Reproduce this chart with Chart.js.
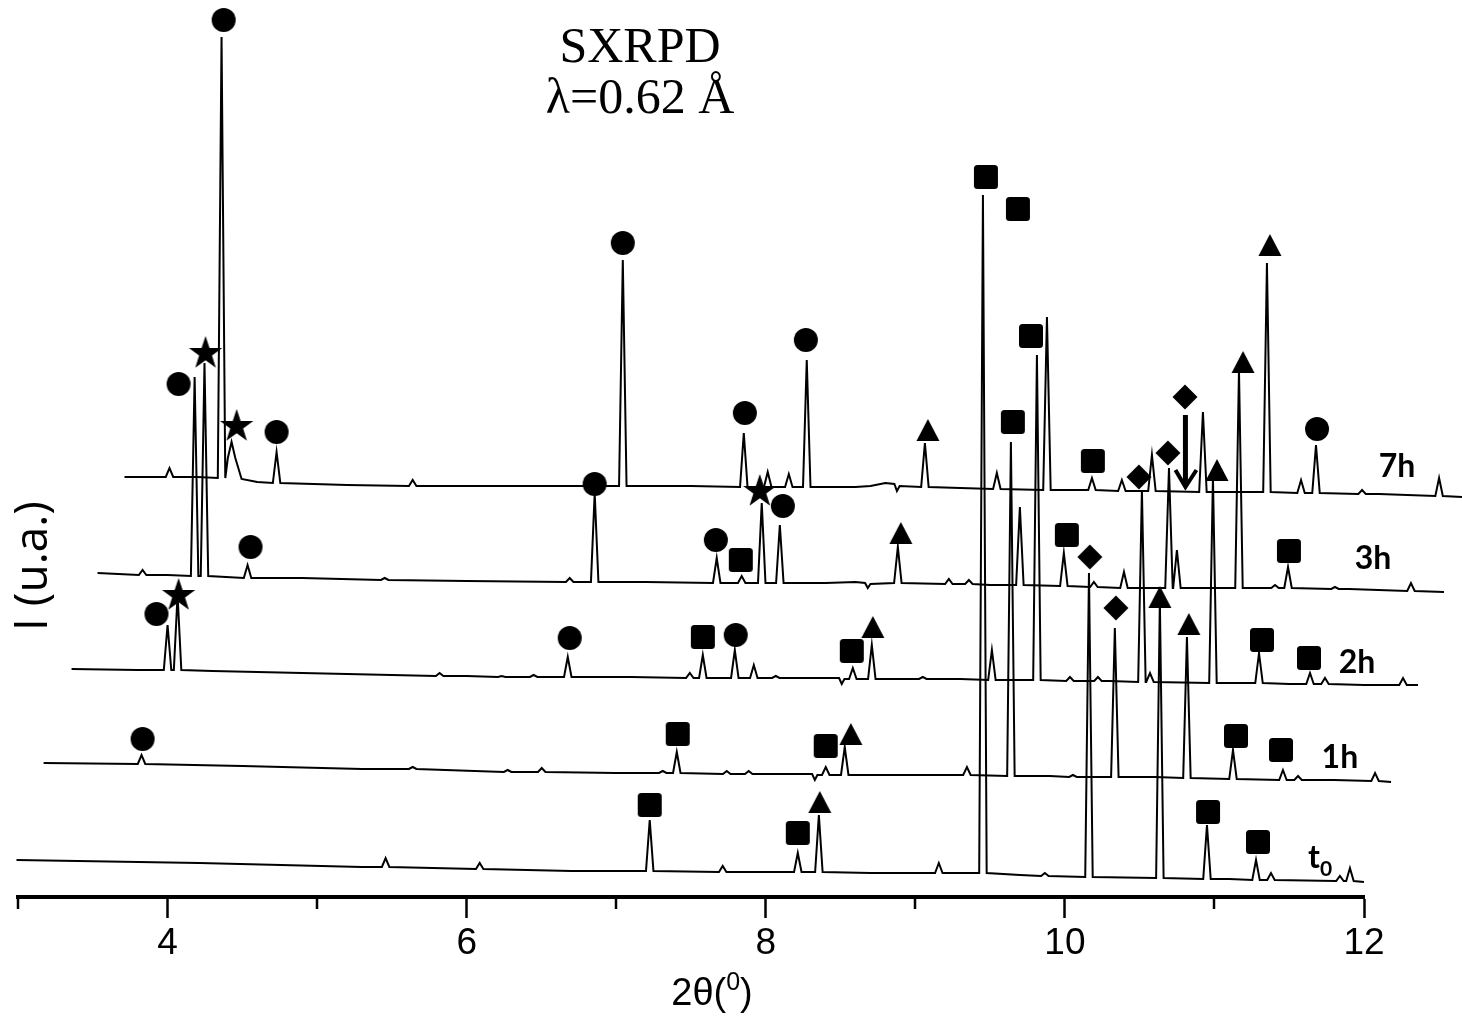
<!DOCTYPE html>
<html>
<head>
<meta charset="utf-8">
<title>SXRPD</title>
<script src="https://cdn.jsdelivr.net/npm/chart.js@4.4.1/dist/chart.umd.min.js"></script>
<style>
  html, body { margin: 0; padding: 0; background: #fff; }
  #wrap { width: 1462px; height: 1017px; position: relative; }
</style>
</head>
<body>
<div id="wrap"><canvas id="xrd"></canvas></div>
<script>
// Waterfall of SXRPD patterns (each trace already carries its stacking offset).
// Baselines: [2θ, I]; peaks: [2θ, local baseline I, peak top I]
const t0Base = [[2.990, 37], [4.214, 34], [5.300, 30], [6.700, 26], [8.700, 24], [9.700, 22], [11.100, 18], [12.000, 15]];
const t0Peaks = [
  [5.458, 30, 39], [6.087, 28, 34], [7.224, 26, 77], [7.712, 25, 31], [8.214, 25, 44], [8.355, 25, 82],
  [9.157, 24, 34], [9.452, 24, 702], [9.866, 21, 24], [10.161, 20, 324], [10.635, 19, 297],
  [10.950, 18, 72], [11.278, 17, 37], [11.378, 17, 24], [11.839, 16, 21], [11.906, 16, 29]
];

const h1Base = [[3.171, 134], [4.500, 131], [5.300, 128], [7.000, 124], [8.100, 123], [8.310, 123], [8.328, 117],
  [8.345, 122], [9.000, 122], [9.900, 121], [10.600, 120], [11.800, 117], [12.181, 115]];
const h1Peaks = [
  [3.826, 133, 142], [5.639, 128, 130], [6.274, 125, 127], [6.502, 125, 129], [7.311, 124, 126], [7.405, 124, 145],
  [7.739, 123, 126], [7.886, 123, 126], [8.401, 122, 130], [8.528, 122, 150], [9.345, 122, 130], [9.639, 121, 455],
  [10.054, 120, 122], [10.334, 120, 269], [10.816, 119, 260], [11.124, 118, 147], [11.458, 117, 127],
  [11.559, 117, 121], [12.074, 116, 124]
];

const h2Base = [[3.358, 228], [3.800, 227], [4.300, 226], [5.200, 223], [6.000, 221], [7.100, 220], [8.300, 219],
  [8.490, 219], [8.508, 213], [8.526, 218], [9.300, 218], [10.300, 216], [11.500, 213], [12.000, 212], [12.361, 212]];
const h2Peaks = [
  [4.000, 227, 272], [4.067, 227, 302], [5.819, 221, 224], [6.234, 220, 221], [6.448, 220, 222], [6.676, 220, 240],
  [7.492, 219, 224], [7.579, 219, 242], [7.793, 219, 247], [7.920, 219, 232], [8.067, 219, 221], [8.582, 218, 229],
  [8.709, 218, 252], [9.050, 218, 220], [9.512, 217, 247], [9.813, 217, 542], [10.034, 216, 220], [10.221, 216, 220],
  [10.515, 215, 407], [10.569, 215, 224], [10.990, 214, 420], [11.298, 214, 244], [11.639, 213, 224],
  [11.739, 213, 219], [12.261, 212, 219]
];

const h3Base = [[3.532, 324], [4.000, 322], [4.900, 319], [6.000, 316], [7.200, 315], [8.400, 314], [8.600, 315],
  [8.664, 314], [8.682, 309], [8.700, 313], [9.500, 312], [10.550, 309], [11.900, 308], [12.535, 305]];
const h3Peaks = [
  [3.833, 322, 327], [4.181, 321, 520], [4.247, 321, 534], [4.535, 319, 332], [5.452, 317, 319], [6.689, 315, 319],
  [6.856, 315, 404], [7.672, 314, 339], [7.839, 314, 321], [7.973, 314, 394], [8.094, 314, 372], [8.883, 314, 350],
  [9.224, 313, 318], [9.358, 313, 317], [9.699, 312, 390], [9.993, 311, 344], [10.194, 310, 315], [10.395, 309, 325],
  [10.696, 309, 429], [10.749, 309, 347], [11.164, 309, 527], [11.405, 309, 312], [11.492, 309, 330],
  [11.806, 308, 310], [12.314, 306, 314]
];

const h7Base = [[3.712, 420], [4.200, 420], [4.495, 418], [4.600, 415], [5.200, 412], [6.400, 411], [7.500, 411],
  [8.600, 410], [8.700, 411], [8.800, 414], [8.860, 413], [8.877, 406], [8.895, 411], [9.300, 409], [10.000, 407],
  [11.000, 405], [12.100, 403], [12.656, 400]];
const h7Peaks = [
  [4.013, 420, 429], [4.361, 419, 860], [4.428, 439, 455], [4.729, 414, 445], [5.639, 411, 417], [7.044, 411, 637],
  [7.853, 410, 464], [8.013, 410, 425], [8.154, 410, 423], [8.274, 410, 537], [9.064, 410, 454], [9.545, 408, 424],
  [9.880, 407, 580], [10.181, 407, 419], [10.381, 406, 417], [10.582, 406, 442], [10.923, 405, 485],
  [11.351, 405, 634], [11.579, 404, 417], [11.679, 404, 452], [11.987, 403, 407], [12.502, 401, 419]
];

// phase markers [2θ, I]
const circleMarks = [[4.375, 877], [4.074, 513], [4.729, 465], [7.044, 654], [8.268, 557], [7.860, 484],
  [6.856, 413], [8.114, 391], [7.666, 357], [4.555, 350], [3.926, 283], [6.689, 259], [7.799, 262],
  [3.833, 158], [11.686, 468]];
const starMarks = [[4.254, 545], [4.462, 472], [7.960, 407], [4.074, 303]];
const squareMarks = [[9.472, 720], [9.686, 688], [9.773, 561], [9.652, 475], [10.187, 436], [7.833, 337],
  [10.013, 362], [11.498, 346], [7.579, 260], [8.575, 246], [11.318, 257], [11.632, 239], [7.411, 163],
  [8.401, 151], [11.144, 161], [11.445, 147], [7.224, 92], [8.214, 64], [10.957, 85], [11.291, 55]];
const triangleMarks = [[9.084, 467], [11.371, 652], [11.191, 535], [11.017, 427], [8.903, 364], [8.716, 270],
  [10.829, 273], [8.569, 163], [10.635, 300], [8.361, 95]];
const diamondMarks = [[10.803, 500], [10.689, 444], [10.495, 420], [10.167, 340], [10.341, 289]];
const arrowMark = [10.806, 482, 408]; // 2θ, from I, to I

const curveNames = [['t', '0'], ['1h', ''], ['2h', ''], ['3h', ''], ['7h', '']];
const nameAnchors = [[11.706, 37], [11.839, 137], [11.953, 232], [12.060, 336], [12.221, 428]];

const FOOT = 0.025; // half width of a peak at its base, in degrees

function trace(base, peaks) {
  const pts = base
    .filter(([t]) => peaks.every(([p]) => Math.abs(p - t) > 2 * FOOT))
    .map(([t, i]) => ({ x: t, y: i }));
  peaks.forEach(([p, b, top]) => {
    pts.push({ x: p - FOOT, y: b }, { x: p, y: top }, { x: p + FOOT, y: b });
  });
  return pts.sort((a, b) => a.x - b.x);
}

// marker glyphs
function markCanvas(w, h, paint) {
  const c = document.createElement('canvas');
  c.width = w;
  c.height = h;
  const g = c.getContext('2d');
  g.fillStyle = '#000';
  g.beginPath();
  paint(g);
  g.fill();
  return c;
}
const CIRCLE = markCanvas(26, 26, g => g.arc(13, 13, 12, 0, 2 * Math.PI));
const SQUARE = markCanvas(26, 26, g => {
  const r = 3.5;
  g.moveTo(1 + r, 1);
  g.arcTo(25, 1, 25, 25, r);
  g.arcTo(25, 25, 1, 25, r);
  g.arcTo(1, 25, 1, 1, r);
  g.arcTo(1, 1, 25, 1, r);
  g.closePath();
});
const TRIANGLE = markCanvas(26, 26, g => {
  g.moveTo(13, 2); g.lineTo(24.5, 24); g.lineTo(1.5, 24); g.closePath();
});
const DIAMOND = markCanvas(28, 28, g => {
  g.moveTo(14, 1.5); g.lineTo(26.5, 14); g.lineTo(14, 26.5); g.lineTo(1.5, 14); g.closePath();
});
const STAR = markCanvas(36, 36, g => {
  for (let k = 0; k < 10; k++) {
    const r = k % 2 ? 6.8 : 17.5;
    const a = -Math.PI / 2 + k * Math.PI / 5;
    g.lineTo(18 + r * Math.cos(a), 19.5 + r * Math.sin(a));
  }
  g.closePath();
});

const lineSet = data => ({
  type: 'line', data, order: 1, borderColor: '#000', borderWidth: 2,
  pointRadius: 0, tension: 0, fill: false, clip: false
});
const markSet = (marks, style) => ({
  type: 'scatter', data: marks.map(([x, y]) => ({ x, y })), order: 0,
  pointStyle: style, pointRadius: 12, showLine: false, clip: false
});

// text, arrow and minor ticks
const decorations = {
  id: 'decorations',
  afterDraw(chart) {
    const { ctx, chartArea, scales: { x, y } } = chart;
    ctx.save();
    ctx.fillStyle = '#000';
    ctx.strokeStyle = '#000';

    // minor ticks
    ctx.lineWidth = 2.5;
    for (let v = 3; v <= 11; v += 2) {
      const px = Math.round(x.getPixelForValue(v));
      ctx.beginPath();
      ctx.moveTo(px, chartArea.bottom);
      ctx.lineTo(px, chartArea.bottom + 12);
      ctx.stroke();
    }

    // arrow
    const ax = x.getPixelForValue(arrowMark[0]);
    const ay1 = y.getPixelForValue(arrowMark[1]);
    const ay2 = y.getPixelForValue(arrowMark[2]);
    ctx.lineWidth = 5;
    ctx.beginPath();
    ctx.moveTo(ax, ay1);
    ctx.lineTo(ax, ay2 - 4);
    ctx.stroke();
    ctx.lineWidth = 4;
    ctx.lineJoin = 'miter';
    ctx.beginPath();
    ctx.moveTo(ax - 10, ay2 - 19);
    ctx.lineTo(ax, ay2 - 2);
    ctx.lineTo(ax + 11, ay2 - 19);
    ctx.stroke();

    // heading
    ctx.font = '50px "Liberation Serif"';
    ctx.textAlign = 'center';
    ctx.textBaseline = 'alphabetic';
    ctx.fillText('SXRPD', 640, 62);
    ctx.fillText('λ=0.62 Å', 640, 113);

    // curve names
    curveNames.forEach(([main, sub], i) => {
      const cx = x.getPixelForValue(nameAnchors[i][0]);
      const cy = y.getPixelForValue(nameAnchors[i][1]);
      ctx.font = 'bold 32px Lato';
      const wMain = ctx.measureText(main).width;
      ctx.font = 'bold 21px Lato';
      const wSub = sub ? ctx.measureText(sub).width : 0;
      const left = cx - (wMain + wSub) / 2;
      ctx.textAlign = 'left';
      ctx.textBaseline = 'middle';
      ctx.font = 'bold 32px Lato';
      ctx.fillText(main, left, cy - 2);
      if (sub) {
        ctx.font = 'bold 21px Lato';
        ctx.fillText(sub, left + wMain, cy + 9);
      }
    });

    // axis titles
    ctx.save();
    ctx.translate(47, 566);
    ctx.rotate(-Math.PI / 2);
    ctx.font = '46px "Open Sans"';
    ctx.textAlign = 'center';
    ctx.textBaseline = 'alphabetic';
    ctx.fillText('I (u.a.)', 0, 0);
    ctx.restore();

    ctx.font = '38px "Liberation Sans"';
    ctx.textBaseline = 'alphabetic';
    ctx.textAlign = 'left';
    const pre = '2θ(';
    const wPre = ctx.measureText(pre).width;
    ctx.font = '25px "Liberation Sans"';
    const wSup = ctx.measureText('0').width;
    ctx.font = '38px "Liberation Sans"';
    const wPost = ctx.measureText(')').width;
    let tx = 712 - (wPre + wSup + wPost) / 2;
    ctx.fillText(pre, tx, 1005);
    tx += wPre;
    ctx.font = '25px "Liberation Sans"';
    ctx.fillText('0', tx, 990);
    tx += wSup;
    ctx.font = '38px "Liberation Sans"';
    ctx.fillText(')', tx, 1005);

    ctx.restore();
  }
};

Chart.defaults.font.family = 'Liberation Sans';
Chart.defaults.color = '#000';

new Chart(document.getElementById('xrd'), {
  type: 'line',
  data: {
    datasets: [
      markSet(circleMarks, CIRCLE),
      markSet(starMarks, STAR),
      markSet(squareMarks, SQUARE),
      markSet(triangleMarks, TRIANGLE),
      markSet(diamondMarks, DIAMOND),
      lineSet(trace(t0Base, t0Peaks)),
      lineSet(trace(h1Base, h1Peaks)),
      lineSet(trace(h2Base, h2Peaks)),
      lineSet(trace(h3Base, h3Peaks)),
      lineSet(trace(h7Base, h7Peaks))
    ]
  },
  options: {
    responsive: true,
    maintainAspectRatio: false,
    animation: false,
    events: [],
    layout: { autoPadding: false, padding: { left: 18, right: 98, top: 0, bottom: 0 } },
    plugins: { legend: { display: false }, tooltip: { enabled: false } },
    scales: {
      x: {
        type: 'linear',
        afterDataLimits: s => { s.min = 3; s.max = 12; },
        afterFit: s => { s.height = 120; },
        ticks: {
          stepSize: 1,
          autoSkip: false,
          maxRotation: 0,
          padding: 4,
          color: '#000',
          font: { size: 37 },
          callback: v => (v % 2 === 0 ? v : '')
        },
        grid: {
          drawOnChartArea: false,
          drawTicks: true,
          tickLength: 21,
          tickWidth: 2.5,
          tickColor: c => (c.tick && c.tick.value % 2 === 0 ? '#000' : 'rgba(0,0,0,0)')
        },
        border: { display: true, color: '#000', width: 4 }
      },
      y: { type: 'linear', display: false, min: 0, max: 897 }
    }
  },
  plugins: [decorations]
});
</script>
</body>
</html>
